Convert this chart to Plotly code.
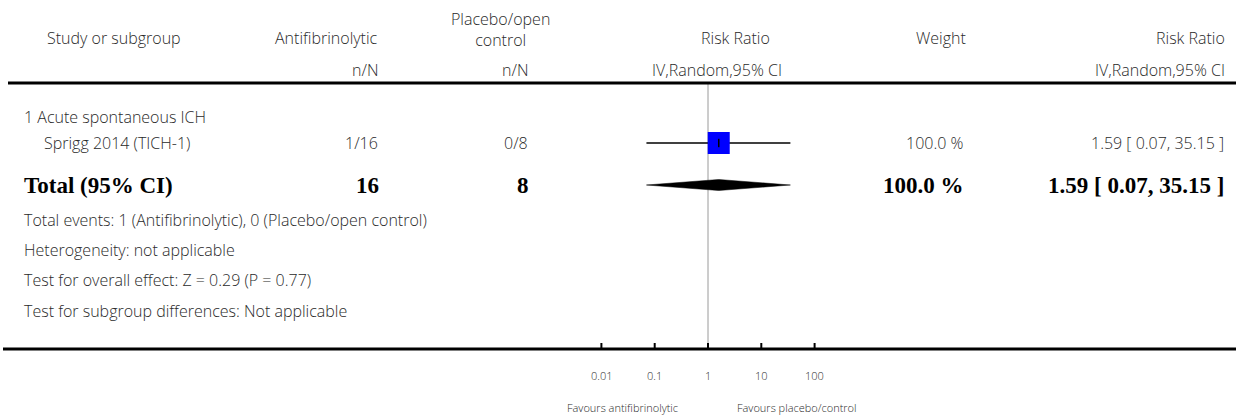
import math
import plotly.graph_objects as go

# ---------------- data ----------------
subgroup_label = "1 Acute spontaneous ICH"
studies = ["Sprigg 2014 (TICH-1)"]
treat_events = [1]
treat_total = [16]
ctrl_events = [0]
ctrl_total = [8]
study_rr = [1.59]
study_lo = [0.07]
study_hi = [35.15]
study_weight = [100.0]

pooled_rr = 1.59
pooled_lo = 0.07
pooled_hi = 35.15
pooled_weight = 100.0

tick_values = [0.01, 0.1, 1, 10, 100]
tick_labels = ["0.01", "0.1", "1", "10", "100"]

footer_lines = [
    "Total events: 1 (Antifibrinolytic), 0 (Placebo/open control)",
    "Heterogeneity: not applicable",
    "Test for overall effect: Z = 0.29 (P = 0.77)",
    "Test for subgroup differences: Not applicable",
]

# ---------------- layout constants ----------------
W, H = 1236, 415
ONE_PX = 708.0          # pixel position of RR = 1
DECADE_PX = 53.3        # pixels per log10 decade
x_range = [(0 - ONE_PX) / DECADE_PX, (W - ONE_PX) / DECADE_PX]

Y_HEAD1, Y_HEAD2 = 38, 70
Y_HEAD_LINE = 83
Y_SUB = 117
Y_STUDY0 = 143
Y_TOTAL = 185
Y_FOOT = [220, 250, 280, 311]
Y_AXIS = 349
Y_TICKLAB = 375
Y_FAVOURS = 407
TICK_LEN = 6
DIAMOND_HALF = 5.5

SANS = "'Open Sans', Lato, sans-serif"
SERIF = "'Liberation Serif', 'DejaVu Serif', serif"
TXT = "#2a2a2a"
FS = 16
FW = 300

fig = go.Figure()

# reference line at RR = 1
fig.add_trace(go.Scatter(x=[1, 1], y=[Y_HEAD_LINE, Y_AXIS], mode="lines",
                         line=dict(color="#9a9a9a", width=1), hoverinfo="skip"))

# study CI lines and squares
for i, s in enumerate(studies):
    yy = Y_STUDY0 + i * 26
    fig.add_trace(go.Scatter(x=[study_lo[i], study_hi[i]], y=[yy, yy], mode="lines",
                             line=dict(color="black", width=1.5), hoverinfo="skip"))
    fig.add_trace(go.Scatter(x=[study_rr[i]], y=[yy], mode="markers",
                             marker=dict(symbol="square", size=22, color="#0000ff",
                                         line=dict(width=0)), hoverinfo="skip"))
    fig.add_trace(go.Scatter(x=[study_rr[i]], y=[yy], mode="markers",
                             marker=dict(symbol="line-ns", size=6,
                                         line=dict(color="black", width=1.5)),
                             hoverinfo="skip"))

# pooled diamond
fig.add_trace(go.Scatter(
    x=[pooled_lo, pooled_rr, pooled_hi, pooled_rr, pooled_lo],
    y=[Y_TOTAL, Y_TOTAL - DIAMOND_HALF, Y_TOTAL, Y_TOTAL + DIAMOND_HALF, Y_TOTAL],
    mode="lines", fill="toself", fillcolor="black", line=dict(color="black", width=0.5),
    hoverinfo="skip"))

# axis tick marks
for tv in tick_values:
    fig.add_trace(go.Scatter(x=[tv, tv], y=[Y_AXIS - TICK_LEN, Y_AXIS], mode="lines",
                             line=dict(color="black", width=2), hoverinfo="skip"))

# horizontal rules
fig.add_shape(type="line", xref="paper", yref="y", x0=8 / W, x1=1, y0=Y_HEAD_LINE, y1=Y_HEAD_LINE,
              line=dict(color="black", width=3))
fig.add_shape(type="line", xref="paper", yref="y", x0=3 / W, x1=1, y0=Y_AXIS, y1=Y_AXIS,
              line=dict(color="black", width=3))


def txt(text, px, y, anchor="left", size=FS, family=SANS, bold=False, color=TXT, weight=FW):
    if bold:
        weight = 700
    fig.add_annotation(text=text, x=px / W, y=y, xref="paper", yref="y",
                       xanchor=anchor, yanchor="middle", showarrow=False,
                       font=dict(family=family, size=size, color=color, weight=weight))


# header
txt("Study or subgroup", 45, Y_HEAD1)
txt("Antifibrinolytic", 380, Y_HEAD1, "right")
fig.add_annotation(text="Placebo/open<br>control", x=500 / W, y=29, xref="paper", yref="y",
                   xanchor="center", yanchor="middle", showarrow=False,
                   font=dict(family=SANS, size=FS, color=TXT, weight=FW), align="center")
txt("Risk Ratio", 735, Y_HEAD1, "center")
txt("Weight", 941, Y_HEAD1, "center")
txt("Risk Ratio", 1227, Y_HEAD1, "right")
txt("n/N", 380, Y_HEAD2, "right")
txt("n/N", 530, Y_HEAD2, "right")
txt("IV,Random,95% CI", 717, Y_HEAD2, "center")
txt("IV,Random,95% CI", 1227, Y_HEAD2, "right")

# subgroup + study rows
txt(subgroup_label, 22, Y_SUB)
for i, s in enumerate(studies):
    yy = Y_STUDY0 + i * 26
    txt(s, 42, yy)
    txt(f"{treat_events[i]}/{treat_total[i]}", 380, yy, "right")
    txt(f"{ctrl_events[i]}/{ctrl_total[i]}", 530, yy, "right")
    txt(f"{study_weight[i]:.1f} %", 966, yy, "right")
    txt(f"{study_rr[i]:.2f} [ {study_lo[i]:.2f}, {study_hi[i]:.2f} ]", 1226, yy, "right")

# total row
TS = 23
txt("Total (95% CI)", 22, Y_TOTAL, size=TS, family=SERIF, bold=True, color="black")
txt(str(sum(treat_total)), 381, Y_TOTAL, "right", size=TS, family=SERIF, bold=True, color="black")
txt(str(sum(ctrl_total)), 531, Y_TOTAL, "right", size=TS, family=SERIF, bold=True, color="black")
txt(f"{pooled_weight:.1f} %", 966, Y_TOTAL, "right", size=TS, family=SERIF, bold=True, color="black")
txt(f"{pooled_rr:.2f} [ {pooled_lo:.2f}, {pooled_hi:.2f} ]", 1226, Y_TOTAL, "right",
    size=TS, family=SERIF, bold=True, color="black")

for line, yy in zip(footer_lines, Y_FOOT):
    txt(line, 22, yy)

# tick labels (anchored to the log axis)
for tv, tl in zip(tick_values, tick_labels):
    fig.add_annotation(text=tl, x=math.log10(tv), y=Y_TICKLAB,
                       xref="x", yref="y", xanchor="center", yanchor="middle", showarrow=False,
                       font=dict(family=SANS, size=11, color=TXT, weight=FW))

fig.add_annotation(text="Favours antifibrinolytic", x=0, y=Y_FAVOURS, xref="x", yref="y",
                   xanchor="right", yanchor="middle", xshift=-28, showarrow=False,
                   font=dict(family=SANS, size=11, color=TXT, weight=FW))
fig.add_annotation(text="Favours placebo/control", x=0, y=Y_FAVOURS, xref="x", yref="y",
                   xanchor="left", yanchor="middle", xshift=27, showarrow=False,
                   font=dict(family=SANS, size=11, color=TXT, weight=FW))

fig.update_layout(
    width=W, height=H, margin=dict(l=0, r=0, t=0, b=0),
    paper_bgcolor="white", plot_bgcolor="white", showlegend=False,
    xaxis=dict(type="log", range=x_range, visible=False, fixedrange=True),
    yaxis=dict(range=[H, 0], visible=False, fixedrange=True),
)

fig.write_html("out.html", config={"displayModeBar": False},
               post_script="document.body.style.margin='0';document.body.style.overflow='hidden';")
